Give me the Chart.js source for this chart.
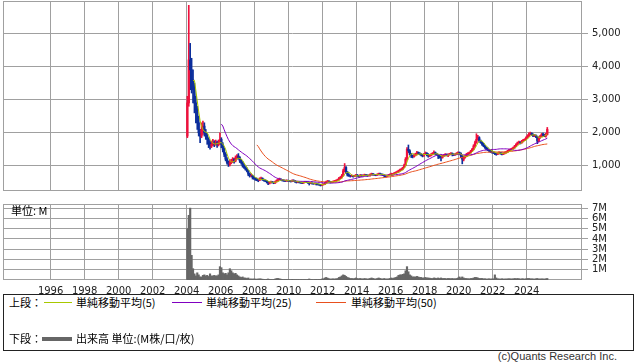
<!DOCTYPE html>
<html>
<head>
<meta charset="utf-8">
<script src="https://cdn.jsdelivr.net/npm/chart.js@4/dist/chart.umd.min.js"></script>
<style>
  html, body { margin: 0; padding: 0; background: #fff; }
  body { width: 638px; height: 362px; position: relative; overflow: hidden; font-family: "Noto Sans CJK JP", sans-serif; color: #000; }
  #price { position: absolute; left: 0; top: 0; }
  #volume { position: absolute; left: 0; top: 196px; }
  .unit { position: absolute; left: 11px; top: 204px; font-size: 11px; line-height: 12px; }
  .legend { position: absolute; left: 3px; top: 294px; width: 629px; height: 55px; border: 1px solid #222; font-size: 11px; }
  .legend span { position: absolute; line-height: 14px; white-space: nowrap; }
  .legend i { position: absolute; height: 0; }
  .footer { position: absolute; right: 21px; top: 350px; font-family: "Liberation Sans", sans-serif; font-size: 11px; color: #333; }
</style>
</head>
<body>
<canvas id="price" width="638" height="192"></canvas>
<canvas id="volume" width="638" height="98"></canvas>
<div class="unit">単位: M</div>
<div class="legend">
  <span style="left:5px;top:0px">上段：</span>
  <i style="left:40px;top:7px;width:28px;border-top:1px solid #a8c800"></i>
  <span style="left:72px;top:0px">単純移動平均(5)</span>
  <i style="left:168px;top:7px;width:30px;border-top:1px solid #8000c0"></i>
  <span style="left:202px;top:0px">単純移動平均(25)</span>
  <i style="left:312px;top:7px;width:30px;border-top:1px solid #e8501e"></i>
  <span style="left:347px;top:0px">単純移動平均(50)</span>
  <span style="left:5px;top:36px">下段：</span>
  <i style="left:38px;top:42px;width:30px;border-top:4px solid #666"></i>
  <span style="left:72px;top:36px">出来高 単位:(M株/口/枚)</span>
</div>
<div class="footer">(c)Quants Research Inc.</div>
<script>
const startYear = 2004
const yearTicks = [1996, 1998, 2000, 2002, 2004, 2006, 2008, 2010, 2012, 2014, 2016, 2018, 2020, 2022, 2024]
const priceTicks = [1000, 2000, 3000, 4000, 5000]
const volumeTicks = [1, 2, 3, 4, 5, 6, 7]

// monthly bars, Jan 2004 .. Mar 2025
const opens = [
  1900, 2900, 4200, 3900, 3600, 3300, 2900, 2700, 2300, 2000, 1900, 2100,
  2200, 2000, 1900, 1800, 1700, 1600, 1650, 1700, 1650, 1700, 1650, 1700,
  1800, 1650, 1500, 1350, 1200, 1100, 1050, 1100, 1150, 1200, 1150, 1250,
  1300, 1250, 1150, 1100, 1000, 950, 900, 850, 750, 700, 700, 650,
  620, 600, 580, 560, 600, 620, 580, 560, 540, 520, 480, 500,
  520, 500, 480, 520, 560, 580, 600, 580, 560, 550, 540, 560,
  550, 540, 530, 560, 550, 520, 500, 510, 500, 490, 480, 500,
  510, 500, 490, 470, 480, 470, 460, 470, 450, 440, 430, 420,
  430, 440, 480, 520, 540, 520, 500, 510, 530, 540, 560, 580,
  620, 640, 700, 850, 950, 800, 720, 700, 690, 700, 680, 700,
  720, 700, 690, 720, 700, 710, 730, 720, 700, 710, 740, 760,
  740, 730, 720, 740, 760, 750, 740, 720, 700, 690, 700, 720,
  740, 760, 760, 780, 800, 820, 850, 880, 900, 950, 1020, 1200,
  1500, 1450, 1350, 1300, 1280, 1320, 1350, 1400, 1380, 1350, 1330, 1300,
  1350, 1380, 1350, 1300, 1320, 1350, 1380, 1400, 1360, 1340, 1300, 1280,
  1250, 1300, 1320, 1350, 1330, 1340, 1360, 1380, 1350, 1330, 1350, 1380,
  1400, 1380, 1300, 1200, 1250, 1300, 1350, 1380, 1400, 1450, 1500, 1600,
  1700, 1800, 1850, 1750, 1700, 1650, 1600, 1550, 1500, 1480, 1450, 1430,
  1420, 1400, 1380, 1350, 1380, 1400, 1380, 1350, 1380, 1400, 1420, 1450,
  1480, 1500, 1520, 1550, 1600, 1650, 1700, 1720, 1700, 1750, 1780, 1800,
  1850, 1900, 1950, 1980, 1950, 1900, 1920, 1880, 1750, 1850, 1900, 1950,
  1920, 1900, 1950,
]
const highs = [
  3100, 5850, 4700, 4250, 3900, 3500, 3100, 2800, 2500, 2100, 2300, 2350,
  2300, 2100, 1980, 1850, 1750, 1750, 1800, 1760, 1780, 1750, 1780, 2000,
  1850, 1700, 1550, 1400, 1250, 1150, 1180, 1200, 1250, 1230, 1300, 1340,
  1370, 1280, 1200, 1130, 1050, 980, 940, 870, 780, 760, 720, 680,
  640, 630, 600, 640, 660, 640, 600, 580, 560, 530, 520, 540,
  530, 510, 540, 580, 600, 630, 610, 590, 580, 560, 580, 570,
  560, 550, 580, 580, 560, 530, 530, 520, 510, 500, 520, 530,
  530, 520, 500, 500, 490, 480, 490, 480, 460, 450, 440, 450,
  460, 500, 540, 560, 550, 530, 530, 550, 560, 580, 600, 650,
  680, 740, 900, 1070, 980, 830, 760, 720, 730, 710, 720, 740,
  740, 710, 740, 730, 730, 750, 740, 730, 730, 760, 780, 770,
  750, 740, 760, 780, 780, 760, 750, 730, 710, 720, 740, 760,
  780, 770, 800, 820, 840, 870, 900, 920, 960, 1050, 1250, 1550,
  1630, 1480, 1380, 1320, 1360, 1380, 1440, 1420, 1400, 1370, 1350, 1380,
  1420, 1400, 1370, 1340, 1370, 1400, 1450, 1420, 1380, 1350, 1320, 1300,
  1320, 1340, 1370, 1360, 1360, 1380, 1400, 1390, 1360, 1370, 1400, 1420,
  1420, 1390, 1320, 1280, 1320, 1380, 1400, 1420, 1470, 1530, 1640, 1750,
  1970, 1920, 1880, 1780, 1720, 1680, 1620, 1570, 1540, 1500, 1470, 1450,
  1430, 1410, 1390, 1400, 1420, 1410, 1390, 1400, 1420, 1440, 1470, 1500,
  1520, 1540, 1570, 1620, 1670, 1720, 1750, 1730, 1770, 1800, 1820, 1880,
  1940, 2000, 2020, 2000, 1970, 1950, 1940, 1900, 1870, 1920, 1980, 1990,
  1960, 1980, 2160,
]
const lows = [
  1850, 2800, 3300, 3200, 2900, 2600, 2300, 2100, 1900, 1700, 1850, 1950,
  1900, 1800, 1650, 1550, 1500, 1550, 1600, 1580, 1620, 1560, 1600, 1650,
  1550, 1420, 1280, 1150, 1050, 980, 1000, 1060, 1100, 1080, 1120, 1200,
  1200, 1100, 1050, 960, 920, 870, 820, 700, 660, 670, 600, 590,
  560, 550, 520, 550, 590, 560, 540, 520, 480, 430, 450, 480,
  480, 460, 470, 510, 540, 570, 560, 540, 530, 520, 530, 530,
  520, 510, 520, 530, 500, 480, 490, 480, 470, 460, 470, 490,
  490, 470, 420, 460, 450, 440, 450, 420, 420, 410, 390, 400,
  420, 430, 470, 500, 490, 480, 490, 500, 520, 530, 550, 570,
  610, 630, 690, 820, 760, 690, 680, 660, 680, 660, 670, 690,
  680, 660, 680, 680, 690, 700, 700, 680, 690, 690, 730, 720,
  710, 700, 710, 730, 740, 720, 700, 660, 660, 680, 690, 710,
  700, 710, 750, 770, 790, 800, 840, 860, 880, 940, 1000, 1180,
  1400, 1320, 1250, 1240, 1260, 1300, 1330, 1350, 1330, 1300, 1270, 1290,
  1340, 1300, 1260, 1280, 1300, 1330, 1360, 1330, 1320, 1220, 1230, 1150,
  1230, 1280, 1300, 1300, 1280, 1320, 1340, 1300, 1310, 1320, 1340, 1360,
  1350, 1250, 1060, 1150, 1230, 1280, 1320, 1360, 1380, 1430, 1480, 1580,
  1680, 1780, 1720, 1680, 1620, 1580, 1530, 1480, 1460, 1420, 1400, 1380,
  1370, 1340, 1320, 1340, 1360, 1350, 1330, 1340, 1360, 1380, 1400, 1430,
  1460, 1480, 1500, 1530, 1580, 1630, 1680, 1660, 1680, 1720, 1760, 1790,
  1830, 1880, 1930, 1920, 1880, 1880, 1850, 1670, 1730, 1830, 1880, 1890,
  1880, 1870, 1930,
]
const closes = [
  2900, 4200, 3900, 3600, 3300, 2900, 2700, 2300, 2000, 1900, 2100, 2200,
  2000, 1900, 1800, 1700, 1600, 1650, 1700, 1650, 1700, 1650, 1700, 1800,
  1650, 1500, 1350, 1200, 1100, 1050, 1100, 1150, 1200, 1150, 1250, 1300,
  1250, 1150, 1100, 1000, 950, 900, 850, 750, 700, 700, 650, 620,
  600, 580, 560, 600, 620, 580, 560, 540, 520, 480, 500, 520,
  500, 480, 520, 560, 580, 600, 580, 560, 550, 540, 560, 550,
  540, 530, 560, 550, 520, 500, 510, 500, 490, 480, 500, 510,
  500, 490, 470, 480, 470, 460, 470, 450, 440, 430, 420, 430,
  440, 480, 520, 540, 520, 500, 510, 530, 540, 560, 580, 620,
  640, 700, 850, 950, 800, 720, 700, 690, 700, 680, 700, 720,
  700, 690, 720, 700, 710, 730, 720, 700, 710, 740, 760, 740,
  730, 720, 740, 760, 750, 740, 720, 700, 690, 700, 720, 740,
  760, 760, 780, 800, 820, 850, 880, 900, 950, 1020, 1200, 1500,
  1450, 1350, 1300, 1280, 1320, 1350, 1400, 1380, 1350, 1330, 1300, 1350,
  1380, 1350, 1300, 1320, 1350, 1380, 1400, 1360, 1340, 1300, 1280, 1250,
  1300, 1320, 1350, 1330, 1340, 1360, 1380, 1350, 1330, 1350, 1380, 1400,
  1380, 1300, 1200, 1250, 1300, 1350, 1380, 1400, 1450, 1500, 1600, 1700,
  1800, 1850, 1750, 1700, 1650, 1600, 1550, 1500, 1480, 1450, 1430, 1420,
  1400, 1380, 1350, 1380, 1400, 1380, 1350, 1380, 1400, 1420, 1450, 1480,
  1500, 1520, 1550, 1600, 1650, 1700, 1720, 1700, 1750, 1780, 1800, 1850,
  1900, 1950, 1980, 1950, 1900, 1920, 1880, 1750, 1850, 1900, 1950, 1920,
  1900, 1950, 2100,
]
// millions of shares
const volumes = [
  5.0, 6.3, 7.0, 2.4, 1.1, 0.6, 0.4, 0.7, 0.5, 0.3, 0.3, 0.45,
  0.5, 0.4, 0.45, 0.35, 0.6, 0.4, 0.4, 0.45, 0.4, 0.4, 0.5, 1.3,
  1.2, 0.7, 0.6, 0.65, 0.5, 0.7, 1.1, 0.9, 0.7, 0.6, 0.65, 0.5,
  0.4, 0.3, 0.25, 0.3, 0.2, 0.2, 0.15, 0.2, 0.1, 0.1, 0.1, 0.1,
  0.1, 0.08, 0.1, 0.12, 0.1, 0.08, 0.06, 0.05, 0.07, 0.1, 0.06, 0.05,
  0.05, 0.06, 0.1, 0.15, 0.15, 0.12, 0.08, 0.06, 0.05, 0.05, 0.06, 0.05,
  0.05, 0.04, 0.06, 0.05, 0.04, 0.05, 0.04, 0.04, 0.05, 0.04, 0.05, 0.04,
  0.04, 0.05, 0.1, 0.05, 0.04, 0.04, 0.05, 0.06, 0.05, 0.05, 0.06, 0.1,
  0.12, 0.2, 0.25, 0.18, 0.12, 0.1, 0.1, 0.12, 0.1, 0.12, 0.15, 0.25,
  0.3, 0.4, 0.5, 0.45, 0.35, 0.25, 0.2, 0.15, 0.15, 0.12, 0.15, 0.2,
  0.15, 0.12, 0.15, 0.12, 0.1, 0.15, 0.12, 0.1, 0.12, 0.15, 0.2, 0.15,
  0.12, 0.1, 0.15, 0.2, 0.15, 0.12, 0.1, 0.15, 0.1, 0.1, 0.12, 0.15,
  0.2, 0.15, 0.2, 0.25, 0.3, 0.45, 0.5, 0.5, 0.55, 0.6, 0.9, 1.3,
  0.8, 0.5, 0.4, 0.3, 0.3, 0.3, 0.35, 0.3, 0.25, 0.25, 0.2, 0.2,
  0.25, 0.2, 0.2, 0.18, 0.15, 0.15, 0.2, 0.18, 0.15, 0.2, 0.15, 0.2,
  0.15, 0.15, 0.15, 0.12, 0.15, 0.15, 0.12, 0.15, 0.12, 0.12, 0.15, 0.2,
  0.3, 0.2, 0.3, 0.2, 0.15, 0.15, 0.12, 0.12, 0.15, 0.15, 0.2, 0.25,
  0.25, 0.2, 0.15, 0.15, 0.15, 0.12, 0.12, 0.1, 0.1, 0.12, 0.1, 0.1,
  0.12, 0.5, 0.2, 0.12, 0.1, 0.1, 0.12, 0.1, 0.1, 0.1, 0.12, 0.12,
  0.12, 0.1, 0.12, 0.15, 0.12, 0.15, 0.12, 0.1, 0.12, 0.12, 0.1, 0.12,
  0.15, 0.15, 0.12, 0.12, 0.1, 0.1, 0.12, 0.15, 0.1, 0.1, 0.12, 0.1,
  0.1, 0.12, 0.15,
]

const X_MIN = 1993.2
const X_MAX = 2027.25
const GRID = "#a0a0a0"
const UP = "#f0103c"
const DOWN = "#0c2e9c"
const tickFont = { family: "'DejaVu Sans', sans-serif", size: 10 }

// month centre as a fractional year
const months = closes.map((_, i) => startYear + (i + 0.5) / 12)
const candleColors = closes.map((c, i) => (c >= opens[i] ? UP : DOWN))

function sma(src, n) {
  return src.map((_, i) => {
    if (i < n - 1) return null
    let sum = 0
    for (let k = i - n + 1; k <= i; k++) sum += src[k]
    return sum / n
  })
}

function maLine(n, color) {
  return {
    type: "line",
    data: sma(closes, n).map((v, i) => ({ x: months[i], y: v })),
    borderColor: color,
    borderWidth: 1,
    pointRadius: 0,
    tension: 0,
    order: 0,
  }
}

const frame = {
  id: "frame",
  beforeDatasetsDraw(chart) {
    const { ctx, chartArea: a } = chart
    ctx.save()
    ctx.strokeStyle = GRID
    ctx.lineWidth = 1
    ctx.strokeRect(Math.round(a.left) + 0.5, Math.round(a.top) + 0.5,
      Math.round(a.right - a.left) - 1, Math.round(a.bottom - a.top) - 1)
    ctx.restore()
  },
}

function xAxis(showLabels) {
  return {
    type: "linear",
    min: X_MIN,
    max: X_MAX,
    offset: false,
    afterBuildTicks: (s) => { s.ticks = yearTicks.map((v) => ({ value: v })) },
    ticks: { display: showLabels, color: "#222", font: tickFont, padding: 5, maxRotation: 0, autoSkip: false, callback: (v) => String(v) },
    grid: { color: GRID, drawTicks: false, offset: false },
    border: { display: false },
    afterFit: (s) => {
      s.height = showLabels ? 14 : 0
      s.paddingLeft = 0
      s.paddingRight = 0
    },
  }
}

function yAxis(min, max, ticks, label) {
  return {
    position: "right",
    min,
    max,
    afterBuildTicks: (s) => { s.ticks = ticks.map((v) => ({ value: v })) },
    ticks: { color: "#222", font: tickFont, padding: 4, autoSkip: false, callback: label },
    grid: { color: GRID, tickLength: 6 },
    border: { display: false },
    afterFit: (s) => {
      s.width = 56
      s.paddingTop = 0
      s.paddingBottom = 0
    },
  }
}

const baseOptions = {
  responsive: false,
  animation: false,
  events: [],
  plugins: { legend: { display: false }, tooltip: { enabled: false } },
}

new Chart(document.getElementById("price"), {
  type: "bar",
  data: {
    datasets: [
      maLine(5, "#a8c800"),
      maLine(25, "#8000c0"),
      maLine(50, "#e8501e"),
      {
        label: "wick",
        data: months.map((x, i) => ({ x, y: [lows[i], highs[i]] })),
        backgroundColor: candleColors,
        barThickness: 1,
        grouped: false,
        order: 2,
      },
      {
        label: "body",
        data: months.map((x, i) => ({ x, y: [opens[i], closes[i]] })),
        backgroundColor: candleColors,
        barThickness: 1.6,
        grouped: false,
        order: 1,
      },
    ],
  },
  options: {
    ...baseOptions,
    layout: { padding: { left: 3, top: 1, bottom: 1, right: 0 } },
    scales: {
      x: xAxis(false),
      y: yAxis(240, 5980, priceTicks, (v) => v.toLocaleString("en-US")),
    },
  },
  plugins: [frame],
})

new Chart(document.getElementById("volume"), {
  type: "bar",
  data: {
    datasets: [
      {
        label: "出来高",
        data: months.map((x, i) => ({ x, y: volumes[i] })),
        backgroundColor: "#666666",
        barThickness: 1.5,
        grouped: false,
      },
    ],
  },
  options: {
    ...baseOptions,
    layout: { padding: { left: 3, top: 8, bottom: 0, right: 0 } },
    scales: {
      x: xAxis(true),
      y: yAxis(0, 7.4, volumeTicks, (v) => v + "M"),
    },
  },
  plugins: [frame],
})
</script>
</body>
</html>
